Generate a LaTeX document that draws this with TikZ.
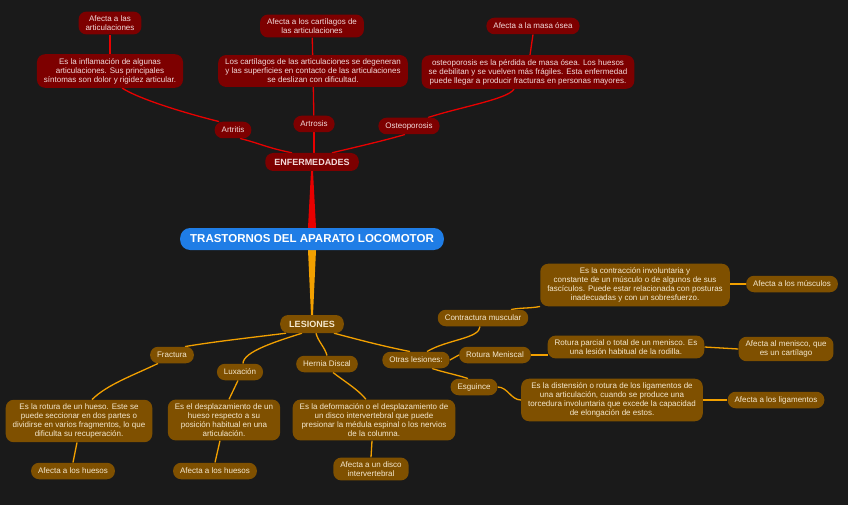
\documentclass[tikz,border=0pt]{standalone}
\usepackage{fontspec}
\setmainfont{Liberation Sans}

\definecolor{canvas}{HTML}{1A1A1A}
\definecolor{rootblue}{HTML}{1F7DE6}
\definecolor{enfred}{HTML}{7D0000}
\definecolor{enftext}{HTML}{F2DADA}
\definecolor{lesbrown}{HTML}{7F5000}
\definecolor{lestext}{HTML}{F5E8CE}
\definecolor{wirered}{HTML}{E80000}
\definecolor{wireorange}{HTML}{F2A000}

\pgfdeclarelayer{background}
\pgfsetlayers{background,main}

\begin{document}
\begin{tikzpicture}[
    x=1pt, y=-1pt,
    root/.style={
        fill=rootblue,
        text=white,
        rounded corners=10pt,
        minimum height=22pt,
        inner xsep=10pt,
        font=\fontsize{11.5}{13}\selectfont\bfseries
    },
    hub/.style={
        rounded corners=8pt,
        minimum height=18pt,
        inner xsep=9pt,
        font=\fontsize{9}{11}\selectfont\bfseries
    },
    item/.style={
        rounded corners=8pt,
        minimum height=16.5pt,
        inner xsep=7pt,
        inner ysep=4pt,
        align=center,
        font=\fontsize{8}{9}\selectfont
    },
    enf/.style={fill=enfred, text=enftext},
    les/.style={fill=lesbrown, text=lestext},
    redwire/.style={draw=wirered, line width=1.3pt},
    orangewire/.style={draw=wireorange, line width=1.3pt}
]

\useasboundingbox (0,0) rectangle (848,505);

% centro
\node[root] (trastornos) at (312,239) {TRASTORNOS DEL APARATO LOCOMOTOR};

% enfermedades
\node[hub, enf] (enfermedades) at (312,162) {ENFERMEDADES};
\node[item, enf] (artritis) at (233,130) {Artritis};
\node[item, enf] (artrosis) at (314,124) {Artrosis};
\node[item, enf] (osteoporosis) at (409,126) {Osteoporosis};

\node[item, enf] (artritisdesc) at (110,71)
{Es la inflamación de algunas\\
articulaciones. Sus principales\\
síntomas son dolor y rigidez articular.};
\node[item, enf] (artritisafecta) at (110,23)
{Afecta a las\\articulaciones};

\node[item, enf] (artrosisdesc) at (313,71)
{Los cartílagos de las articulaciones se degeneran\\
y las superficies en contacto de las articulaciones\\
se deslizan con dificultad.};
\node[item, enf] (artrosisafecta) at (312,26)
{Afecta a los cartílagos de\\las articulaciones};

\node[item, enf] (osteodesc) at (528,72)
{osteoporosis es la pérdida de masa ósea. Los huesos\\
se debilitan y se vuelven más frágiles. Esta enfermedad\\
puede llegar a producir fracturas en personas mayores.};
\node[item, enf] (osteoafecta) at (533,26) {Afecta a la masa ósea};

% lesiones
\node[hub, les] (lesiones) at (312,324) {LESIONES};
\node[item, les] (fractura) at (172,355) {Fractura};
\node[item, les] (luxacion) at (240,372) {Luxación};
\node[item, les] (hernia) at (327,364) {Hernia Discal};
\node[item, les] (otras) at (416,360) {Otras lesiones:};

\node[item, les] (fracturadesc) at (79,421)
{Es la rotura de un hueso. Este se\\
puede seccionar en dos partes o\\
dividirse en varios fragmentos, lo que\\
dificulta su recuperación.};
\node[item, les] (fracturaafecta) at (73,471) {Afecta a los huesos};

\node[item, les] (luxaciondesc) at (224,420)
{Es el desplazamiento de un\\
hueso respecto a su\\
posición habitual en una\\
articulación.};
\node[item, les] (luxacionafecta) at (215,471) {Afecta a los huesos};

\node[item, les] (herniadesc) at (374,420)
{Es la deformación o el desplazamiento de\\
un disco intervertebral que puede\\
presionar la médula espinal o los nervios\\
de la columna.};
\node[item, les] (herniaafecta) at (371,469)
{Afecta a un disco\\intervertebral};

\node[item, les] (contractura) at (483,318) {Contractura muscular};
\node[item, les] (rotura) at (495,355) {Rotura Meniscal};
\node[item, les] (esguince) at (474,387) {Esguince};

\node[item, les] (contracturadesc) at (635,285)
{Es la contracción involuntaria y\\
constante de un músculo o de algunos de sus\\
fascículos. Puede estar relacionada con posturas\\
inadecuadas y con un sobresfuerzo.};
\node[item, les] (contracturaafecta) at (792,284) {Afecta a los músculos};

\node[item, les] (roturadesc) at (626,347)
{Rotura parcial o total de un menisco. Es\\
una lesión habitual de la rodilla.};
\node[item, les] (roturaafecta) at (786,349)
{Afecta al menisco, que\\es un cartílago};

\node[item, les] (esguincedesc) at (612,400)
{Es la distensión o rotura de los ligamentos de\\
una articulación, cuando se produce una\\
torcedura involuntaria que excede la capacidad\\
de elongación de estos.};
\node[item, les] (esguinceafecta) at (776,400) {Afecta a los ligamentos};

\begin{pgfonlayer}{background}
\fill[canvas] (0,0) rectangle (848,505);

% ramas principales
\fill[wirered] ([xshift=-4pt]trastornos.north) -- ([xshift=4pt]trastornos.north)
    -- ([xshift=1pt]enfermedades.south) -- ([xshift=-1pt]enfermedades.south) -- cycle;
\fill[wireorange] ([xshift=-4pt]trastornos.south) -- ([xshift=4pt]trastornos.south)
    -- ([xshift=1pt]lesiones.north) -- ([xshift=-1pt]lesiones.north) -- cycle;

% enfermedades
\draw[redwire] ([xshift=-20pt]enfermedades.north) .. controls +(-25,-5) and +(20,5) .. ([xshift=7pt]artritis.south);
\draw[redwire] ([xshift=2pt]enfermedades.north) -- (artrosis.south);
\draw[redwire] ([xshift=20pt]enfermedades.north) .. controls +(25,-6) and +(-20,6) .. ([xshift=-4pt]osteoporosis.south);
\draw[redwire] ([xshift=-14pt]artritis.north) .. controls +(-40,-10) and +(15,10) .. ([xshift=12pt]artritisdesc.south);
\draw[redwire] (artritisdesc) -- (artritisafecta);
\draw[redwire] (artrosis) -- (artrosisdesc);
\draw[redwire] (artrosisdesc) -- (artrosisafecta);
\draw[redwire] ([xshift=19pt]osteoporosis.north) .. controls +(30,-10) and +(-5,10) .. ([xshift=-14pt]osteodesc.south);
\draw[redwire] ([xshift=2pt]osteodesc.north) -- (osteoafecta.south);

% lesiones
\draw[orangewire] ([xshift=-26pt]lesiones.south) .. controls +(-40,5) and +(30,-5) .. ([xshift=13pt]fractura.north);
\draw[orangewire] ([xshift=-10pt]lesiones.south) .. controls +(-25,8) and +(0,-12) .. ([xshift=3pt]luxacion.north);
\draw[orangewire] ([xshift=4pt]lesiones.south) .. controls +(2,8) and +(-2,-8) .. (hernia.north);
\draw[orangewire] ([xshift=22pt]lesiones.south) .. controls +(30,8) and +(-25,-5) .. ([xshift=-6pt]otras.north);
\draw[orangewire] ([xshift=-14pt]fractura.south) .. controls +(-25,12) and +(15,-15) .. ([xshift=13pt]fracturadesc.north);
\draw[orangewire] ([xshift=-2pt]fracturadesc.south) -- (fracturaafecta.north);
\draw[orangewire] ([xshift=-2pt]luxacion.south) -- ([xshift=5pt]luxaciondesc.north);
\draw[orangewire] ([xshift=-4pt]luxaciondesc.south) -- (luxacionafecta.north);
\draw[orangewire] ([xshift=6pt]hernia.south) .. controls +(10,8) and +(-8,-10) .. ([xshift=-8pt]herniadesc.north);
\draw[orangewire] ([xshift=-2pt]herniadesc.south) -- (herniaafecta.north);
\draw[orangewire] ([xshift=11pt]otras.north) .. controls +(20,-12) and +(0,12) .. ([xshift=-3pt]contractura.south);
\draw[orangewire] (otras.east) -- (rotura.west);
\draw[orangewire] ([xshift=16pt]otras.south) .. controls +(12,4) and +(-12,-4) .. ([xshift=-6pt]esguince.north);
\draw[orangewire] ([xshift=28pt]contractura.north) .. controls +(10,-2) and +(-10,2) .. (contracturadesc.south west);
\draw[orangewire] (contracturadesc.east |- contracturaafecta.west) -- (contracturaafecta.west);
\draw[orangewire] (rotura.east) -- (rotura.east -| roturadesc.west);
\draw[orangewire] (roturadesc.east) -- (roturaafecta.west);
\draw[orangewire] (esguince.east) .. controls +(10,0) and +(-10,0) .. (esguincedesc.west);
\draw[orangewire] (esguincedesc.east) -- (esguinceafecta.west);
\end{pgfonlayer}

\end{tikzpicture}
\end{document}
